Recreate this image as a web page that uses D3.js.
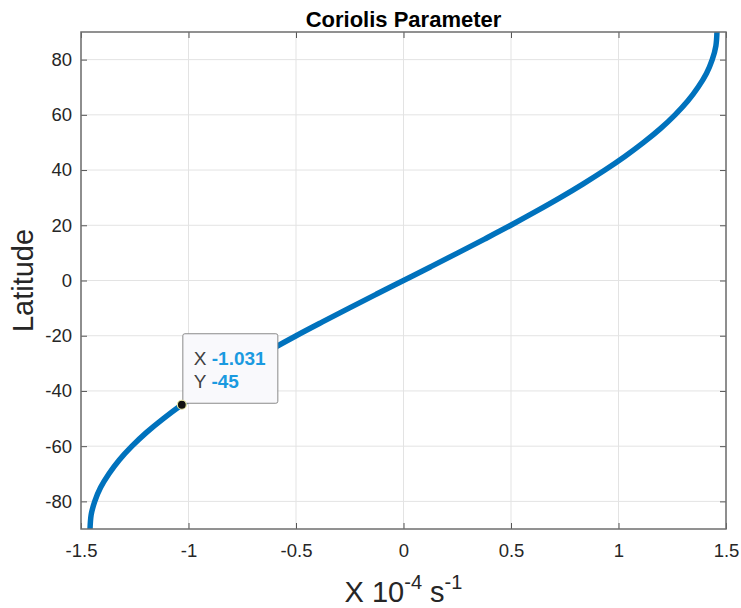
<!DOCTYPE html>
<html>
<head>
<meta charset="utf-8">
<script src="https://cdn.jsdelivr.net/npm/d3@7"></script>
<style>
  body { margin: 0; background: #fff; }
  text { font-family: "Liberation Sans", Arial, Helvetica, sans-serif; }
</style>
</head>
<body>
<svg id="chart" width="741" height="608"></svg>
<script>
// values (x in units of 1e-4 s^-1)
var latitude = [-90, -85, -80, -75, -70, -65, -60, -55, -50, -45, -40, -35, -30, -25, -20, -15, -10, -5,
                0, 5, 10, 15, 20, 25, 30, 35, 40, 45, 50, 55, 60, 65, 70, 75, 80, 85, 90];
var coriolis = [-1.458, -1.453, -1.436, -1.409, -1.370, -1.322, -1.263, -1.195, -1.117, -1.031, -0.937, -0.836, -0.729, -0.616, -0.499, -0.377, -0.253, -0.127,
                0, 0.127, 0.253, 0.377, 0.499, 0.616, 0.729, 0.836, 0.937, 1.031, 1.117, 1.195, 1.263, 1.322, 1.370, 1.409, 1.436, 1.453, 1.458];
var xTicks = [-1.5, -1, -0.5, 0, 0.5, 1, 1.5];
var yTicks = [-80, -60, -40, -20, 0, 20, 40, 60, 80];
var tip = { x: -1.031, y: -45 };

var svg = d3.select("#chart");
var pLeft = 81, pRight = 726, pTop = 32, pBottom = 529;

var x = d3.scaleLinear().domain([-1.5, 1.5]).range([pLeft, pRight]);
var y = d3.scaleLinear().domain([-90, 90]).range([pBottom, pTop]);
var fmt = function (d) { return String(d); };

// grid
svg.append("g").selectAll("line").data(xTicks).join("line")
  .attr("x1", d => x(d)).attr("x2", d => x(d))
  .attr("y1", pTop).attr("y2", pBottom)
  .attr("stroke", "#e3e3e3").attr("stroke-width", 1);
svg.append("g").selectAll("line").data(yTicks).join("line")
  .attr("x1", pLeft).attr("x2", pRight)
  .attr("y1", d => y(d)).attr("y2", d => y(d))
  .attr("stroke", "#e3e3e3").attr("stroke-width", 1);

// curve
var pts = latitude.map((d, i) => [coriolis[i], d]);
var line = d3.line()
  .x(d => x(d[0])).y(d => y(d[1]))
  .curve(d3.curveMonotoneY);
svg.append("path").datum(pts)
  .attr("d", line)
  .attr("fill", "none")
  .attr("stroke", "#0072BD")
  .attr("stroke-width", 5.5);

// axes (box with inward ticks)
var tickLen = -6;
var axColor = "#262626";
function styleAxis(g) {
  g.select(".domain").remove();
  g.selectAll(".tick line").attr("stroke", "#555").attr("stroke-width", 1);
  g.selectAll(".tick text").attr("fill", axColor).style("font-size", "18.5px");
}
svg.append("g").attr("transform", "translate(0," + pBottom + ")")
  .call(d3.axisBottom(x).tickValues(xTicks).tickSize(tickLen).tickPadding(15).tickFormat(fmt))
  .call(styleAxis);
svg.append("g").attr("transform", "translate(0," + pTop + ")")
  .call(d3.axisTop(x).tickValues(xTicks).tickSize(tickLen).tickFormat(""))
  .call(styleAxis);
svg.append("g").attr("transform", "translate(" + pLeft + ",0)")
  .call(d3.axisLeft(y).tickValues(yTicks).tickSize(tickLen).tickPadding(9).tickFormat(fmt))
  .call(styleAxis);
svg.append("g").attr("transform", "translate(" + pRight + ",0)")
  .call(d3.axisRight(y).tickValues(yTicks).tickSize(tickLen).tickFormat(""))
  .call(styleAxis);

svg.append("rect")
  .attr("x", pLeft).attr("y", pTop)
  .attr("width", pRight - pLeft).attr("height", pBottom - pTop)
  .attr("fill", "none").attr("stroke", "#6e6e6e").attr("stroke-width", 1.5);

// title and labels
svg.append("text").attr("x", (pLeft + pRight) / 2).attr("y", 27)
  .attr("text-anchor", "middle").attr("font-weight", "bold")
  .style("font-size", "22px").attr("fill", "#000")
  .text("Coriolis Parameter");

svg.append("text")
  .attr("transform", "translate(33," + ((pTop + pBottom) / 2) + ") rotate(-90)")
  .attr("text-anchor", "middle").style("font-size", "29px").attr("fill", axColor)
  .text("Latitude");

var xl = svg.append("text").attr("x", (pLeft + pRight) / 2).attr("y", 602)
  .attr("text-anchor", "middle").style("font-size", "29px").attr("fill", axColor);
xl.append("tspan").text("X 10");
xl.append("tspan").attr("dy", -13).style("font-size", "20px").text("-4");
xl.append("tspan").attr("dy", 13).text(" s");
xl.append("tspan").attr("dy", -13).style("font-size", "20px").text("-1");

// datatip
var px = x(tip.x), py = y(tip.y);
var tg = svg.append("g");
tg.append("rect")
  .attr("x", px + 1).attr("y", py - 71)
  .attr("width", 95).attr("height", 69.5).attr("rx", 2)
  .attr("fill", "#f9f9fc").attr("stroke", "#8a8a8a").attr("stroke-width", 1);
var rows = [["X", d3.format(".3f")(tip.x).replace("\u2212", "-")], ["Y", String(tip.y)]];
rows.forEach(function (r, i) {
  var t = tg.append("text").attr("x", px + 12).attr("y", py - 40 + i * 23)
    .style("font-size", "19px");
  t.append("tspan").attr("fill", "#404040").text(r[0] + " ");
  t.append("tspan").attr("fill", "#1a9ae0").attr("font-weight", "bold").text(r[1]);
});
svg.append("circle").attr("cx", px).attr("cy", py).attr("r", 4.5)
  .attr("fill", "#111").attr("stroke", "#e8e8a0").attr("stroke-width", 1.2);
</script>
</body>
</html>
